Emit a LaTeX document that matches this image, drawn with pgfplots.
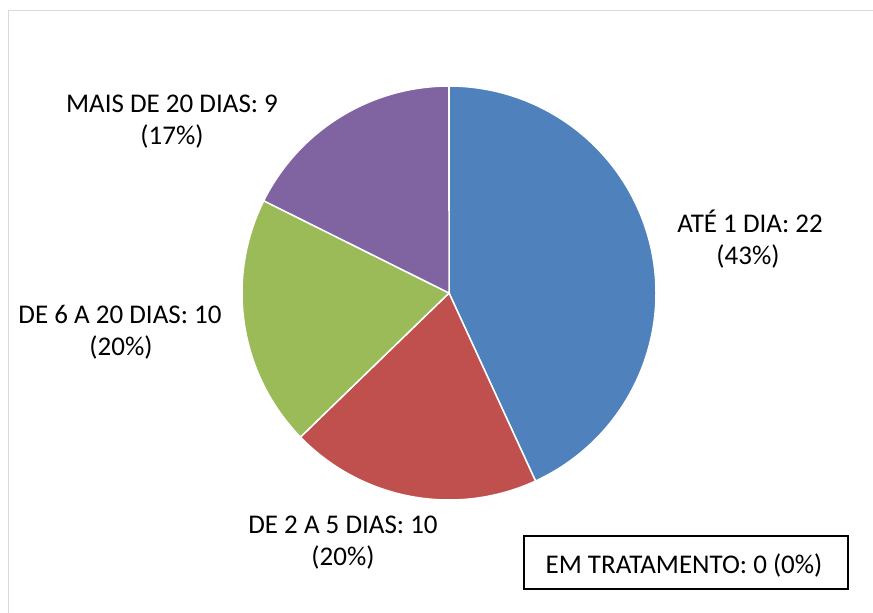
\documentclass[border=0pt]{standalone}
\usepackage{pgfplots}
\pgfplotsset{compat=1.18}
\usepackage{fontspec}
\setmainfont{Carlito}
\definecolor{cA}{HTML}{4F81BD}
\definecolor{cB}{HTML}{C0504D}
\definecolor{cC}{HTML}{9BBB59}
\definecolor{cD}{HTML}{8064A2}
% values
\def\vA{22}% ATE 1 DIA
\def\vB{10}% DE 2 A 5 DIAS
\def\vC{10}% DE 6 A 20 DIAS
\def\vD{9}%  MAIS DE 20 DIAS
\def\vE{0}%  EM TRATAMENTO
\pgfmathsetmacro{\tot}{\vA+\vB+\vC+\vD+\vE}
\pgfmathsetmacro{\aA}{90}
\pgfmathsetmacro{\aB}{\aA-\vA/\tot*360}
\pgfmathsetmacro{\aC}{\aB-\vB/\tot*360}
\pgfmathsetmacro{\aD}{\aC-\vC/\tot*360}
\pgfmathsetmacro{\aE}{\aD-\vD/\tot*360}
\newcommand{\lf}{\fontsize{27bp}{32bp}\selectfont}
\begin{document}
\begin{tikzpicture}
\begin{axis}[
  scale only axis, width=873bp, height=613bp,
  xmin=0, xmax=873, ymin=0, ymax=613, y dir=reverse,
  hide axis, clip=false,
]
\draw[color=black!15, line width=1bp] (axis cs:8,613) -- (axis cs:8,11) -- (axis cs:873,11);
\addplot[fill=cA, draw=white, line width=1.5bp, domain=\aB:\aA, samples=120, variable=\t]
  ({449+207*cos(t)}, {293-207*sin(t)}) -- (axis cs:449,293) -- cycle;
\addplot[fill=cB, draw=white, line width=1.5bp, domain=\aC:\aB, samples=80, variable=\t]
  ({449+207*cos(t)}, {293-207*sin(t)}) -- (axis cs:449,293) -- cycle;
\addplot[fill=cC, draw=white, line width=1.5bp, domain=\aD:\aC, samples=80, variable=\t]
  ({449+207*cos(t)}, {293-207*sin(t)}) -- (axis cs:449,293) -- cycle;
\addplot[fill=cD, draw=white, line width=1.5bp, domain=\aE:\aD, samples=80, variable=\t]
  ({449+207*cos(t)}, {293-207*sin(t)}) -- (axis cs:449,293) -- cycle;
% labels
\node[anchor=base, font=\lf, inner sep=0] at (axis cs:750,232) {ATÉ 1 DIA: 22};
\node[anchor=base, font=\lf, inner sep=0] at (axis cs:748,264) {(43\%)};
\node[anchor=base, font=\lf, inner sep=0] at (axis cs:343,533) {DE 2 A 5 DIAS: 10};
\node[anchor=base, font=\lf, inner sep=0] at (axis cs:343,565) {(20\%)};
\node[anchor=base, font=\lf, inner sep=0] at (axis cs:120,323) {DE 6 A 20 DIAS: 10};
\node[anchor=base, font=\lf, inner sep=0] at (axis cs:121,355) {(20\%)};
\node[anchor=base, font=\lf, inner sep=0] at (axis cs:172,112) {MAIS DE 20 DIAS: 9};
\node[anchor=base, font=\lf, inner sep=0] at (axis cs:172,144) {(17\%)};
\draw[black, line width=1.2bp] (axis cs:524,536) rectangle (axis cs:848,589);
\node[anchor=base, font=\lf, inner sep=0] at (axis cs:684,573) {EM TRATAMENTO: 0 (0\%)};
\end{axis}
\pgfresetboundingbox
\path (0,0) rectangle (873bp,613bp);
\end{tikzpicture}
\end{document}
